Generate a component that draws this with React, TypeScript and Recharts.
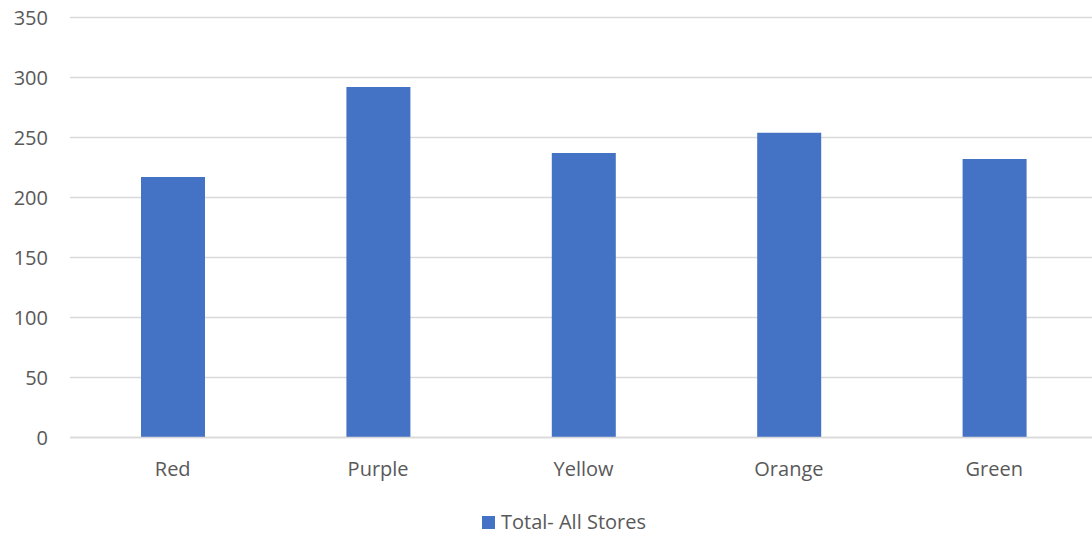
import { BarChart, Bar, XAxis, YAxis, CartesianGrid, Legend } from "recharts";

// categories and values
const stores = ["Red", "Purple", "Yellow", "Orange", "Green"];
const totals = [217, 292, 237, 254, 232];
const yTicks = [0, 50, 100, 150, 200, 250, 300, 350];

const data = stores.map((name, i) => ({ name, total: totals[i] }));

const FONT = "'Open Sans', sans-serif";
const TEXT = "#595959";

function LegendBox({ payload }: any) {
  return (
    <div style={{ display: "flex", justifyContent: "center", alignItems: "center", fontFamily: FONT, fontSize: 20, color: TEXT, lineHeight: "26px" }}>
      {(payload || []).map((p: any) => (
        <span key={p.value} style={{ display: "flex", alignItems: "center" }}>
          <span style={{ width: 13, height: 13, background: p.color, marginRight: 6 }} />
          {p.value}
        </span>
      ))}
    </div>
  );
}

export default function App() {
  return (
    <div style={{ position: "absolute", top: 0, left: 0, width: 1092, height: 536, overflow: "hidden", background: "#fff" }}>
      <BarChart width={1097} height={536} data={data} margin={{ top: 17.5, right: 0, left: 0, bottom: 0 }} barSize={64}>
        <CartesianGrid horizontal vertical={false} stroke="#d9d9d9" strokeWidth={1.3} />
        <XAxis
          dataKey="name"
          axisLine={{ stroke: "#d9d9d9", strokeWidth: 1.3 }}
          tickLine={false}
          tickSize={0}
          tickMargin={24}
          height={52}
          tick={{ fill: TEXT, fontFamily: FONT, fontSize: 20 }}
        />
        <YAxis
          domain={[0, 350]}
          ticks={yTicks}
          axisLine={false}
          tickLine={false}
          tickSize={0}
          tickMargin={22}
          width={70}
          tick={{ fill: TEXT, fontFamily: FONT, fontSize: 20 }}
        />
        <Legend
          verticalAlign="bottom"
          height={46.5}
          content={<LegendBox />}
          wrapperStyle={{ left: 0, width: 1128, top: 509, bottom: "auto" }}
        />
        <Bar dataKey="total" name="Total- All Stores" fill="#4472c4" isAnimationActive={false} />
      </BarChart>
    </div>
  );
}
